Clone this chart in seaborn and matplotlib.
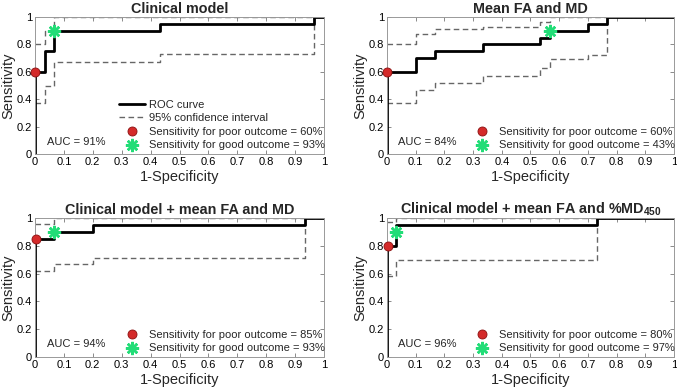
import matplotlib
matplotlib.use("Agg")
import matplotlib.pyplot as plt
import pandas as pd
import seaborn as sns

# ROC step corners (1-specificity, sensitivity) per panel
titles = [
    "Clinical model",
    "Mean FA and MD",
    "Clinical model + mean FA and MD",
    r"Clinical model + mean FA and %MD$_\mathbf{450}$",
]

roc_x = [
    [0, 0, 0.033, 0.067, 0.433, 0.967, 1],
    [0, 0, 0.1, 0.167, 0.333, 0.533, 0.567, 0.7, 0.767, 1],
    [0, 0, 0.067, 0.2, 0.933, 1],
    [0, 0, 0.033, 0.733, 1],
]
roc_y = [
    [0, 0.6, 0.75, 0.9, 0.95, 1, 1],
    [0, 0.6, 0.7, 0.75, 0.8, 0.85, 0.9, 0.95, 1, 1],
    [0, 0.85, 0.9, 0.95, 1, 1],
    [0, 0.8, 0.95, 1, 1],
]

ci_up_x = [
    [0, 0.033, 0.067, 1],
    [0, 0.1, 0.167, 0.333, 0.533, 0.567, 1],
    [0, 0.067, 1],
    [0, 0.033, 1],
]
ci_up_y = [
    [0.8, 0.9, 1.0, 1.0],
    [0.8, 0.875, 0.91, 0.93, 0.96, 1.0, 1.0],
    [0.96, 1.0, 1.0],
    [0.97, 1.0, 1.0],
]

ci_lo_x = [
    [0, 0.033, 0.067, 0.433, 0.967, 1],
    [0, 0.1, 0.167, 0.333, 0.533, 0.567, 0.7, 0.767, 1],
    [0, 0.067, 0.2, 0.933, 1],
    [0, 0.033, 0.733, 1],
]
ci_lo_y = [
    [0.37, 0.5, 0.67, 0.73, 1.0, 1.0],
    [0.37, 0.47, 0.52, 0.57, 0.63, 0.69, 0.72, 1.0, 1.0],
    [0.62, 0.67, 0.71, 1.0, 1.0],
    [0.58, 0.7, 1.0, 1.0],
]

poor_pt = [(0.0, 0.6), (0.0, 0.6), (0.005, 0.85), (0.005, 0.8)]
good_pt = [(0.067, 0.9), (0.567, 0.9), (0.067, 0.9), (0.033, 0.9)]
poor_pct = [60, 60, 85, 80]
good_pct = [93, 43, 93, 97]
auc = [91, 84, 94, 96]

x_ticks = [0, 0.1, 0.2, 0.3, 0.4, 0.5, 0.6, 0.7, 0.8, 0.9, 1]
x_labels = ["0", "0.1", "0.2", "0.3", "0.4", "0.5", "0.6", "0.7", "0.8", "0.9", "1"]
y_ticks = [0, 0.2, 0.4, 0.6, 0.8, 1]
y_labels = ["0", "0.2", "0.4", "0.6", "0.8", "1"]

sns.set_style("white")
plt.rcParams["font.family"] = ["Liberation Sans", "DejaVu Sans"]
plt.rcParams["mathtext.fontset"] = "custom"
plt.rcParams["mathtext.bf"] = "Liberation Sans:bold"
plt.rcParams["mathtext.rm"] = "Liberation Sans"

fig = plt.figure(figsize=(6.77, 3.90), dpi=100)
positions = [
    [0.0517, 0.6051, 0.4269, 0.3513],
    [0.5716, 0.6051, 0.4239, 0.3513],
    [0.0517, 0.0846, 0.4269, 0.3564],
    [0.5716, 0.0846, 0.4239, 0.3564],
]

for i in range(4):
    ax = fig.add_axes(positions[i])

    roc = pd.DataFrame({"fpr": roc_x[i], "tpr": roc_y[i]})
    up = pd.DataFrame({"fpr": ci_up_x[i], "tpr": ci_up_y[i]})
    lo = pd.DataFrame({"fpr": ci_lo_x[i], "tpr": ci_lo_y[i]})

    sns.lineplot(data=up, x="fpr", y="tpr", ax=ax, sort=False, estimator=None,
                 drawstyle="steps-post", color="#666666", linewidth=1,
                 linestyle=(0, (4, 2.5)), label="95% confidence interval" if i == 0 else None)
    sns.lineplot(data=lo, x="fpr", y="tpr", ax=ax, sort=False, estimator=None,
                 drawstyle="steps-post", color="#666666", linewidth=1,
                 linestyle=(0, (4, 2.5)))
    sns.lineplot(data=roc, x="fpr", y="tpr", ax=ax, sort=False, estimator=None,
                 drawstyle="steps-post", color="black", linewidth=2,
                 label="ROC curve" if i == 0 else None)

    ax.plot([poor_pt[i][0]], [poor_pt[i][1]], linestyle="none", marker="o",
            markersize=6.5, markerfacecolor="#d42a2a", markeredgecolor="#8a1010",
            markeredgewidth=0.6, clip_on=False, zorder=5,
            label=f"Sensitivity for poor outcome = {poor_pct[i]}%")
    ax.plot([good_pt[i][0]], [good_pt[i][1]], linestyle="none", marker=(8, 2, 0),
            markersize=9.5, markeredgecolor="#22dd77", markeredgewidth=1.8,
            clip_on=False, zorder=5,
            label=f"Sensitivity for good outcome = {good_pct[i]}%")

    handles, labels = ax.get_legend_handles_labels()
    if i == 0:
        order = [1, 0, 2, 3]
        handles = [handles[k] for k in order]
        labels = [labels[k] for k in order]
    ax.legend(handles, labels, loc="lower right", bbox_to_anchor=(1.01, 0.01),
              frameon=False, fontsize=8, handlelength=2.4, handletextpad=0.3,
              labelspacing=0.32, borderaxespad=0.1, borderpad=0.1)

    ax.text(0.04, 0.09, f"AUC = {auc[i]}%", fontsize=8, va="center", ha="left")

    ax.set_xlim(0, 1)
    ax.set_ylim(0, 1)
    ax.set_xticks(x_ticks)
    ax.set_xticklabels(x_labels)
    ax.set_yticks(y_ticks)
    ax.set_yticklabels(y_labels)
    ax.tick_params(direction="in", length=3, width=0.6, colors="#777777",
                   labelcolor="black", labelsize=8, top=True, right=True,
                   bottom=True, left=True, pad=2)
    for s in ax.spines.values():
        s.set_color("#999999")
        s.set_linewidth(0.7)
    ax.set_xlabel("1-Specificity", fontsize=10.5, labelpad=2)
    ax.set_ylabel("Sensitivity", fontsize=10.5, labelpad=1)
    ax.set_title(titles[i], fontsize=10.4, fontweight="bold", pad=3)

fig.savefig("out.png", dpi=100)
